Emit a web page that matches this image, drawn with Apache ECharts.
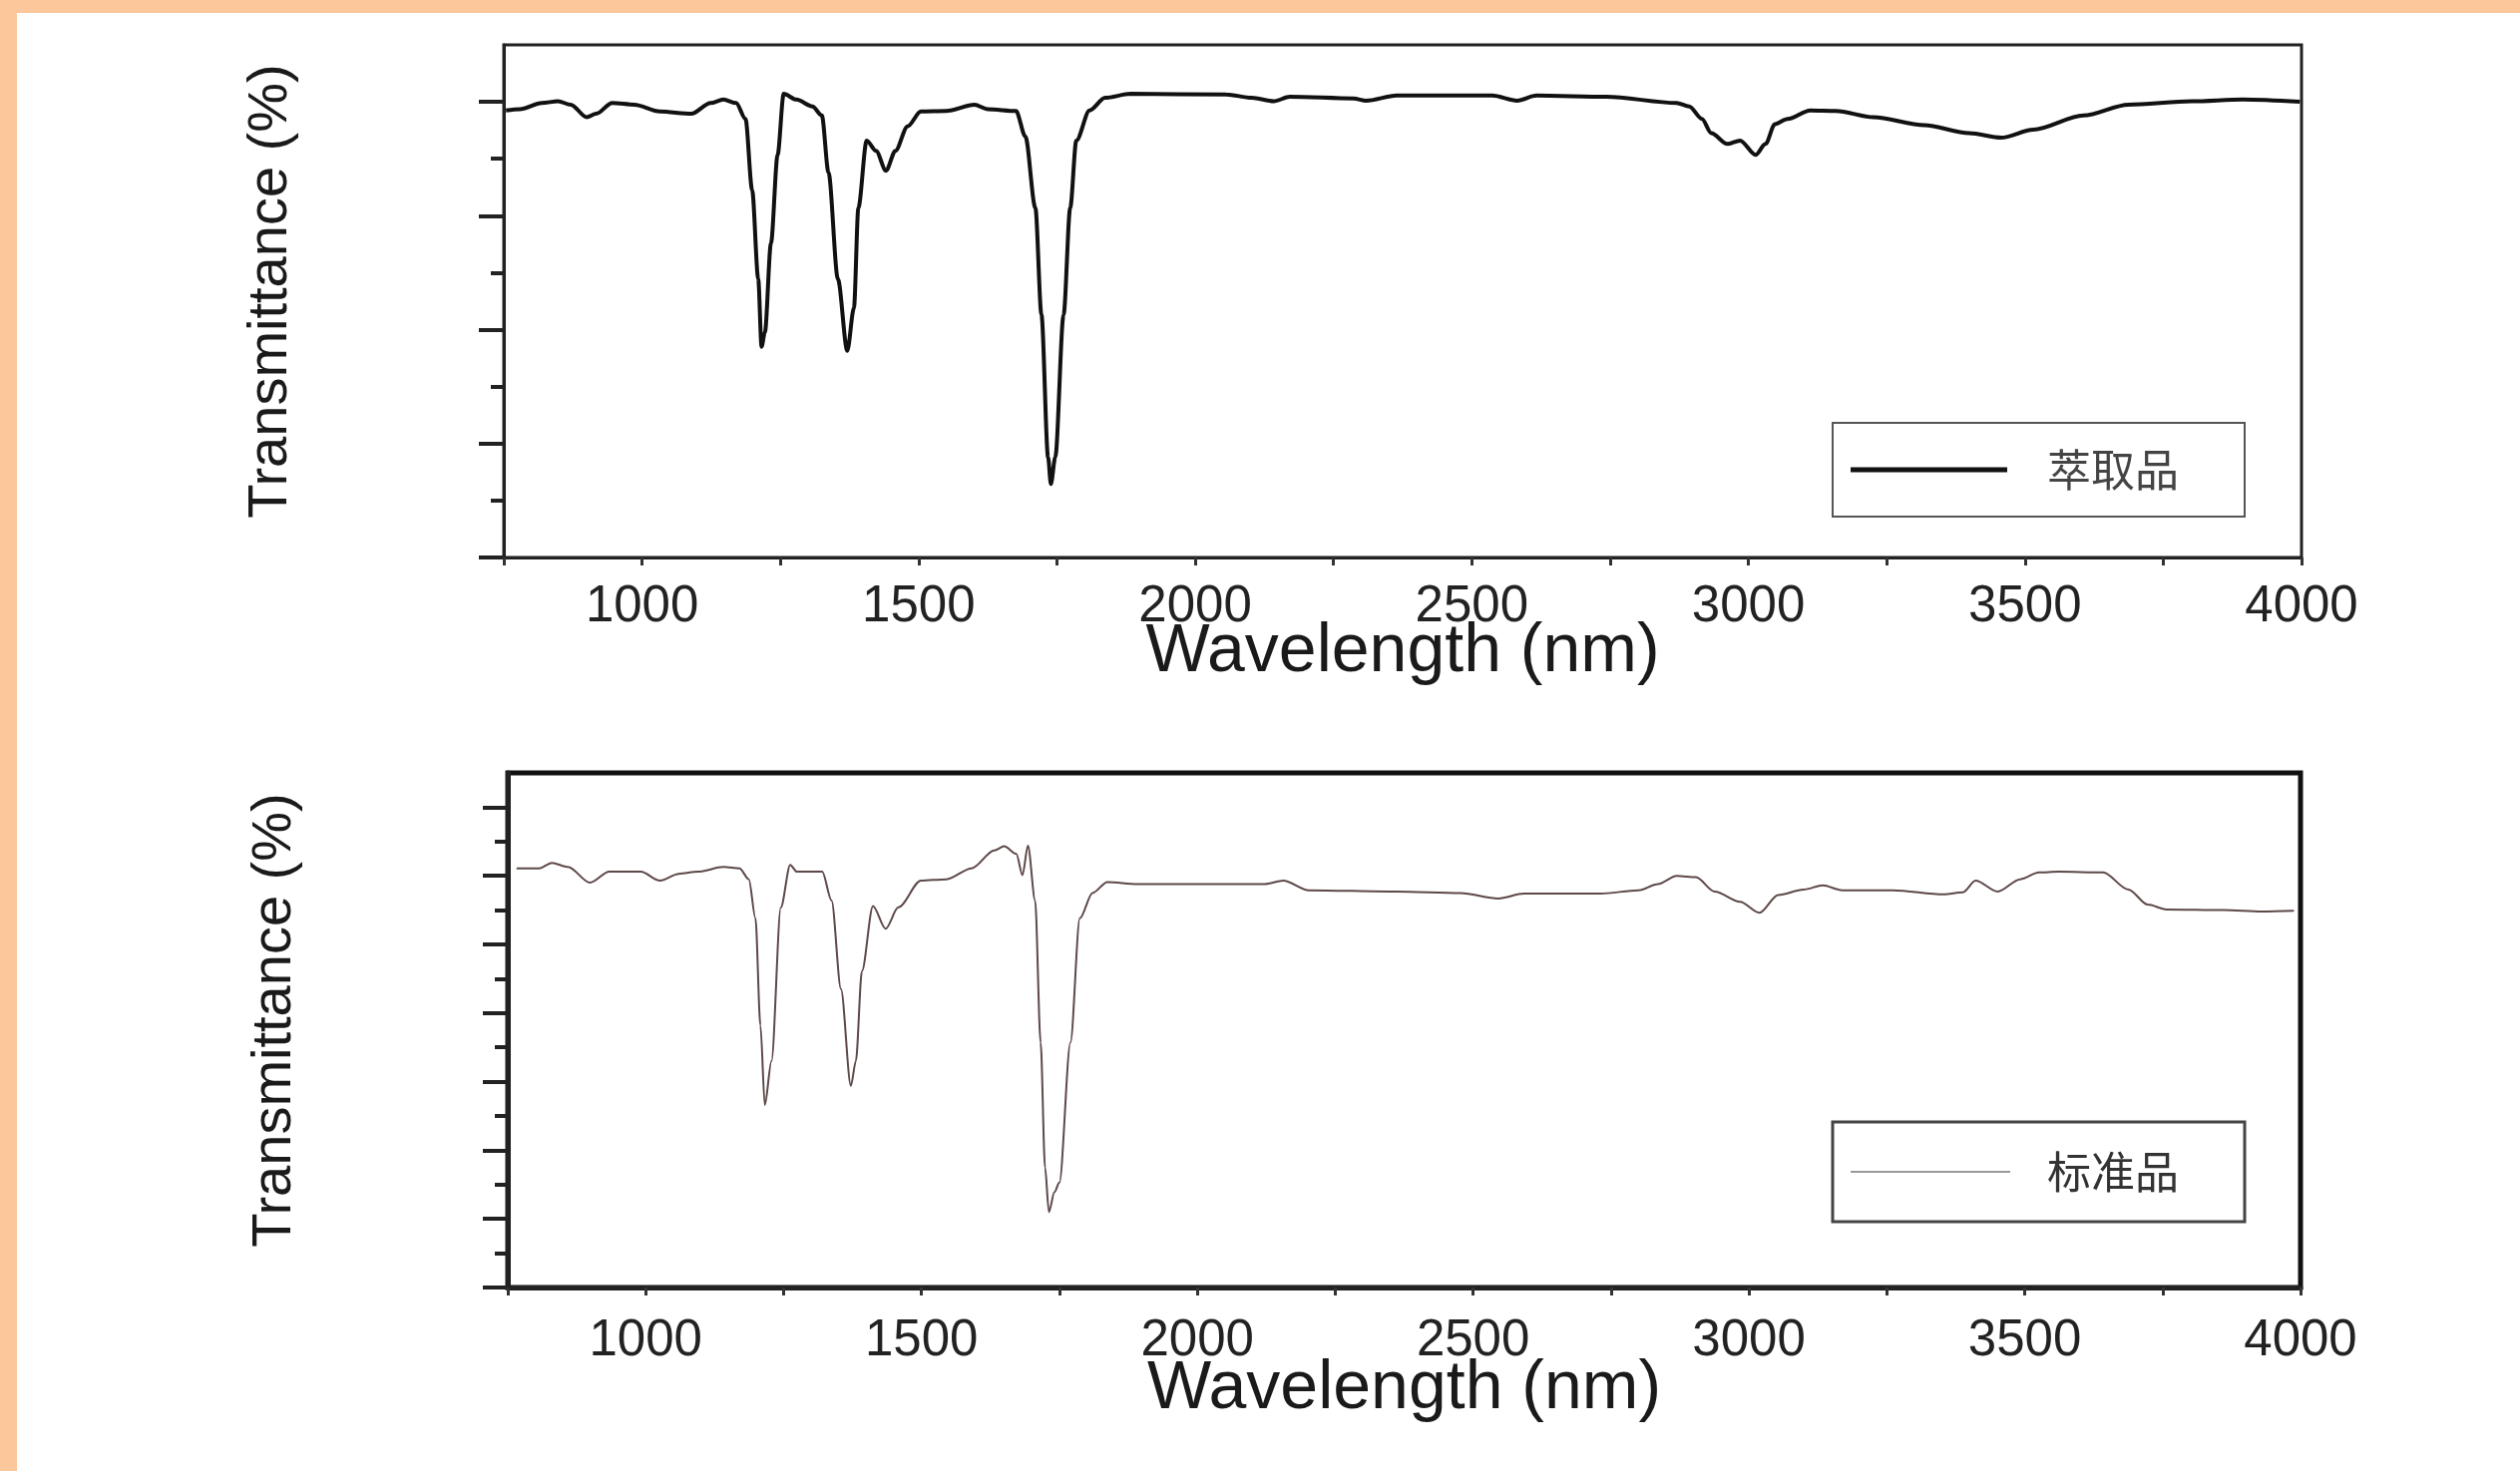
<!DOCTYPE html>
<html>
<head>
<meta charset="utf-8">
<script src="https://cdn.jsdelivr.net/npm/echarts@6/dist/echarts.min.js"></script>
<style>
html, body { margin: 0; padding: 0; background: #fcc79b; }
#paper { position: absolute; left: 17px; top: 13px; right: 0; bottom: 0; background: #fff; }
#chart { position: absolute; left: 0; top: 0; width: 2526px; height: 1475px; }
</style>
</head>
<body>
<div id="paper"></div>
<div id="chart"></div>
<script>
// 萃取品 (extract) spectrum
var extractWl = [754, 779, 819, 848, 871, 900, 917, 946, 986, 1032, 1089, 1124, 1147, 1170, 1187, 1199, 1210, 1216, 1222, 1233, 1245, 1256, 1279, 1308, 1325, 1337, 1354, 1371, 1383, 1391, 1406, 1423, 1441, 1458, 1480, 1504, 1550, 1601, 1625, 1676, 1693, 1711, 1722, 1734, 1739, 1747, 1762, 1774, 1785, 1809, 1837, 1883, 2056, 2102, 2142, 2171, 2286, 2309, 2364, 2537, 2582, 2617, 2743, 2870, 2893, 2916, 2933, 2962, 2985, 3013, 3031, 3048, 3071, 3112, 3158, 3226, 3318, 3399, 3457, 3515, 3606, 3687, 3802, 3894, 3997];
var extractT = [78.5, 78.7, 79.8, 80.1, 79.5, 77.3, 77.9, 79.8, 79.5, 78.3, 77.9, 79.8, 80.4, 79.8, 77.0, 64.5, 48.9, 37.0, 39.5, 55.2, 70.7, 81.4, 80.4, 79.2, 77.6, 67.6, 48.9, 36.3, 43.8, 61.4, 73.2, 71.4, 67.9, 71.4, 75.7, 78.3, 78.4, 79.5, 78.7, 78.4, 73.9, 61.4, 42.6, 17.6, 12.9, 17.6, 42.6, 61.4, 73.2, 78.5, 80.7, 81.4, 81.3, 80.7, 80.1, 80.9, 80.6, 80.2, 81.1, 81.1, 80.2, 81.1, 80.9, 79.8, 79.2, 77.0, 74.5, 72.6, 73.2, 70.7, 72.6, 76.1, 77.0, 78.5, 78.4, 77.3, 75.9, 74.5, 73.7, 75.1, 77.6, 79.5, 80.1, 80.4, 80.0];

// 标准品 (standard) spectrum
var standardWl = [766, 807, 830, 859, 899, 934, 991, 1026, 1060, 1095, 1141, 1170, 1187, 1199, 1208, 1216, 1228, 1245, 1262, 1274, 1320, 1337, 1354, 1372, 1381, 1392, 1412, 1435, 1458, 1499, 1545, 1591, 1632, 1650, 1672, 1683, 1693, 1706, 1716, 1724, 1731, 1741, 1750, 1770, 1787, 1810, 1837, 1891, 2052, 2122, 2156, 2202, 2361, 2477, 2546, 2592, 2731, 2800, 2835, 2869, 2904, 2938, 2984, 3019, 3053, 3099, 3134, 3169, 3261, 3353, 3388, 3411, 3451, 3492, 3526, 3561, 3642, 3688, 3723, 3757, 3861, 3930, 3988];
var standardT = [61.1, 61.1, 61.9, 61.3, 59.0, 60.6, 60.6, 59.3, 60.3, 60.6, 61.3, 61.1, 59.5, 53.8, 38.2, 26.6, 33.0, 55.4, 61.6, 60.6, 60.6, 56.4, 43.5, 29.4, 33.0, 46.1, 55.6, 52.3, 55.4, 59.3, 59.5, 61.1, 63.7, 64.3, 63.2, 60.1, 64.4, 56.4, 35.7, 17.5, 11.0, 13.9, 15.3, 35.7, 53.8, 57.5, 59.1, 58.8, 58.8, 58.8, 59.3, 57.9, 57.7, 57.5, 56.7, 57.4, 57.4, 57.9, 58.8, 60.0, 59.8, 57.7, 56.2, 54.6, 57.2, 58.0, 58.6, 57.9, 57.9, 57.3, 57.6, 59.3, 57.7, 59.5, 60.5, 60.6, 60.5, 58.0, 55.8, 55.1, 55.0, 54.8, 54.9];

// axis ticks
var xTicks = [750, 4000, 250];
var topMajorTicks = [0, 20, 40, 60, 80];
var topMinorTicks = [10, 30, 50, 70];
var bottomMajorTicks = [0, 10, 20, 30, 40, 50, 60, 70];
var bottomMinorTicks = [5, 15, 25, 35, 45, 55, 65];

function pairs(xs, ys) {
    var out = [];
    for (var i = 0; i < xs.length; i++) out.push([xs[i], ys[i]]);
    return out;
}

var latin = "'Liberation Sans', Arial, sans-serif";
var cjk = "'Noto Sans CJK SC', sans-serif";

function xAxisFor(gridIndex, lw, labelMargin, nameGap) {
    return {
        type: 'value', gridIndex: gridIndex,
        min: xTicks[0], max: xTicks[1], interval: xTicks[2],
        name: 'Wavelength (nm)', nameLocation: 'middle', nameGap: nameGap,
        nameMoveOverlap: false,
        nameTextStyle: { fontFamily: latin, fontSize: 68, color: '#1a1a1a' },
        axisLine: { lineStyle: { color: '#222', width: lw } },
        axisTick: { length: 8, lineStyle: { color: '#333', width: 3 } },
        axisLabel: {
            margin: labelMargin, fontFamily: latin, fontSize: 51, color: '#222',
            formatter: function (v) { return (v % 500 === 0 && v >= 1000) ? String(v) : ''; }
        },
        splitLine: { show: false }
    };
}

function yAxisFor(gridIndex, max, ticks, len, lw, withName) {
    return {
        type: 'value', gridIndex: gridIndex, position: 'left', offset: 0,
        min: 0, max: max,
        name: withName ? 'Transmittance (%)' : '',
        nameLocation: 'middle', nameRotate: 90, nameGap: 205,
        nameMoveOverlap: false,
        nameTextStyle: { fontFamily: latin, fontSize: 56, color: '#1a1a1a', padding: [0, 0, 0, 20] },
        axisLine: { show: withName, lineStyle: { color: '#222', width: lw } },
        axisTick: { customValues: ticks, length: len, lineStyle: { color: '#222', width: 4 } },
        axisLabel: { show: false },
        splitLine: { show: false }
    };
}

var chart = echarts.init(document.getElementById('chart'));
chart.setOption({
    animation: false,
    backgroundColor: 'transparent',
    grid: [
        { left: 505, top: 45, width: 1802, height: 514, show: true, borderColor: '#222', borderWidth: 3, backgroundColor: 'transparent' },
        { left: 509, top: 775, width: 1797, height: 516, show: true, borderColor: '#111', borderWidth: 5, backgroundColor: 'transparent' }
    ],
    xAxis: [
        xAxisFor(0, 3, 24, 61),
        xAxisFor(1, 5, 28, 68)
    ],
    yAxis: [
        yAxisFor(0, 90, topMajorTicks, 25, 3, true),
        yAxisFor(0, 90, topMinorTicks, 13, 3, false),
        yAxisFor(1, 75, bottomMajorTicks, 25, 5, true),
        yAxisFor(1, 75, bottomMinorTicks, 13, 5, false)
    ],
    legend: [
        {
            data: ['萃取品'], left: 1837, top: 424,
            padding: [25, 66, 25, 18], itemWidth: 157, itemHeight: 5, icon: 'rect',
            borderColor: '#555', borderWidth: 2,
            itemStyle: { color: '#111' },
            textStyle: { fontFamily: cjk, fontSize: 44, color: '#444', padding: [0, 0, 0, 35], lineHeight: 44 }
        },
        {
            data: ['标准品'], left: 1837, top: 1125,
            padding: [28, 66, 28, 18], itemWidth: 160, itemHeight: 2, icon: 'rect',
            borderColor: '#444', borderWidth: 3,
            itemStyle: { color: '#999' },
            textStyle: { fontFamily: cjk, fontSize: 44, color: '#333', padding: [0, 0, 0, 32], lineHeight: 44 }
        }
    ],
    series: [
        {
            name: '萃取品', type: 'line', xAxisIndex: 0, yAxisIndex: 0,
            symbol: 'none', smooth: 0.3, smoothMonotone: 'x',
            itemStyle: { color: '#111' },
            lineStyle: { color: '#111', width: 4 },
            data: pairs(extractWl, extractT)
        },
        {
            name: '标准品', type: 'line', xAxisIndex: 1, yAxisIndex: 2,
            symbol: 'none', smooth: 0.3, smoothMonotone: 'x',
            itemStyle: { color: '#999' },
            lineStyle: { color: '#5e4848', width: 2 },
            data: pairs(standardWl, standardT)
        }
    ]
});
</script>
</body>
</html>
